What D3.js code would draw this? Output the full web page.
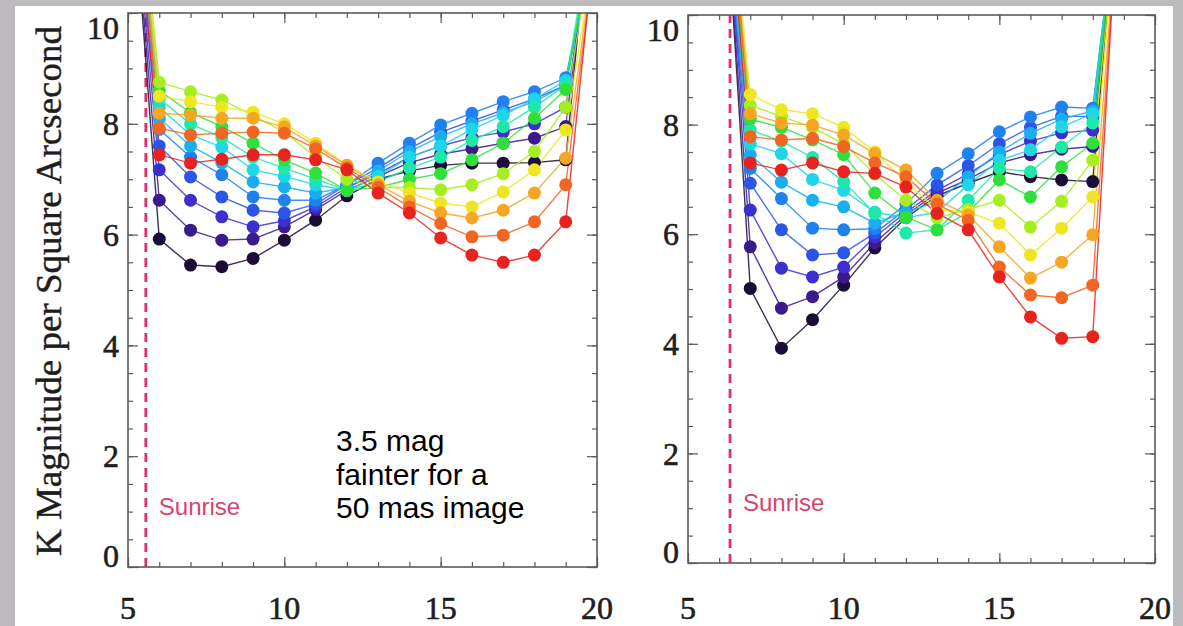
<!DOCTYPE html>
<html>
<head>
<meta charset="utf-8">
<script src="https://cdn.jsdelivr.net/npm/d3@7/dist/d3.min.js"></script>
<style>
  html, body { margin: 0; padding: 0; background: #bcbabc; }
  svg { display: block; }
</style>
</head>
<body>
<svg id="chart" width="1183" height="626"></svg>
<script>
// Hours (local time) at which the K-band sky brightness was sampled
const hoursA = [6, 7, 8, 9, 10, 11, 12, 13, 14, 15, 16, 17, 18, 19];
const hoursB = [7, 8, 9, 10, 11, 12, 13, 14, 15, 16, 17, 18];

// First/last samples, taken while the sky is still too bright (off scale)
const dawnHourA = 5.4, duskHourA = 19.75;
const dawnHourB = 6.4, duskHourB = 18.7;
const sunriseA = 5.57, sunriseB = 6.35;

const xTickLabels = [5, 10, 15, 20];
const yTickLabels = [0, 2, 4, 6, 8, 10];

// One colour per sky pointing
const pointingColors = [
  "#1c0d36", "#3a1a8c", "#3b2fd0", "#2b55e6", "#1f80ee", "#19aef0", "#1fd6e6",
  "#1ee8a8", "#2fe03a", "#a6ee1e", "#eee620", "#f5a623", "#f26522", "#e8231f"
];

// Left panel: magnitude per square arcsecond at each hour, one row per pointing
const skyA = [
  [5.92, 5.45, 5.42, 5.57, 5.90, 6.26, 6.70, 7.00, 7.15, 7.25, 7.29, 7.29, 7.30, 7.35],
  [6.62, 6.08, 5.90, 5.92, 6.14, 6.45, 6.80, 7.05, 7.30, 7.45, 7.55, 7.65, 7.74, 7.95],
  [7.17, 6.62, 6.32, 6.14, 6.25, 6.50, 6.85, 7.10, 7.40, 7.60, 7.75, 7.85, 8.00, 8.30],
  [7.60, 7.04, 6.68, 6.44, 6.39, 6.55, 6.90, 7.20, 7.55, 7.85, 8.05, 8.25, 8.45, 8.70],
  [7.90, 7.40, 7.08, 6.68, 6.62, 6.62, 6.90, 7.29, 7.65, 7.98, 8.19, 8.40, 8.58, 8.83],
  [8.10, 7.60, 7.30, 6.95, 6.86, 6.75, 6.85, 7.15, 7.50, 7.77, 8.00, 8.20, 8.40, 8.70],
  [8.30, 7.80, 7.58, 7.17, 7.05, 6.90, 6.80, 7.05, 7.40, 7.60, 7.90, 8.15, 8.45, 8.78],
  [8.45, 8.00, 7.75, 7.40, 7.20, 7.00, 6.80, 6.95, 7.20, 7.40, 7.70, 7.95, 8.30, 8.70],
  [8.60, 8.20, 7.95, 7.65, 7.35, 7.11, 6.80, 6.85, 7.00, 7.10, 7.35, 7.65, 8.10, 8.62],
  [8.75, 8.58, 8.43, 8.15, 7.85, 7.40, 7.00, 6.85, 6.85, 6.81, 6.90, 7.10, 7.50, 8.30],
  [8.50, 8.40, 8.30, 8.21, 8.00, 7.65, 7.25, 6.95, 6.75, 6.57, 6.50, 6.77, 7.17, 7.89],
  [8.19, 8.16, 8.10, 8.10, 7.94, 7.60, 7.25, 6.90, 6.60, 6.39, 6.30, 6.44, 6.75, 7.38],
  [7.92, 7.80, 7.83, 7.85, 7.83, 7.55, 7.20, 6.85, 6.50, 6.20, 5.96, 5.99, 6.23, 6.90],
  [7.44, 7.29, 7.36, 7.44, 7.44, 7.35, 7.17, 6.75, 6.39, 5.94, 5.63, 5.50, 5.63, 6.23]
];
const dawnA = [10.4, 10.6, 10.8, 11.0, 11.2, 11.4, 11.5, 11.7, 11.9, 12.2, 12.1, 11.8, 11.6, 11.3];
const duskA = [11.8, 11.4, 11.1, 10.9, 10.8, 10.9, 10.8, 11.3, 11.1, 10.9, 10.5, 10.4, 10.3, 10.3];

// Right panel
const skyB = [
  [5.01, 3.92, 4.44, 5.07, 5.75, 6.30, 6.70, 6.93, 7.14, 7.05, 6.99, 6.96],
  [5.77, 4.65, 4.86, 5.22, 5.84, 6.35, 6.75, 7.00, 7.30, 7.45, 7.55, 7.60],
  [6.44, 5.38, 5.22, 5.40, 5.95, 6.40, 6.80, 7.10, 7.45, 7.70, 7.85, 7.90],
  [6.93, 6.08, 5.62, 5.66, 6.02, 6.45, 6.90, 7.25, 7.65, 7.95, 8.15, 8.15],
  [7.20, 6.65, 6.11, 6.08, 6.10, 6.55, 7.11, 7.47, 7.87, 8.14, 8.32, 8.30],
  [7.45, 6.95, 6.62, 6.50, 6.20, 6.40, 6.60, 7.05, 7.50, 7.84, 8.10, 8.25],
  [7.65, 7.47, 7.00, 6.80, 6.40, 6.30, 6.40, 6.90, 7.35, 7.54, 7.96, 8.20],
  [7.90, 7.70, 7.40, 6.96, 6.38, 6.02, 6.08, 6.62, 7.20, 7.14, 7.59, 8.03],
  [8.10, 7.95, 7.72, 7.45, 6.75, 6.31, 6.08, 6.40, 6.99, 6.68, 7.23, 7.66],
  [8.35, 8.15, 7.95, 7.65, 7.10, 6.62, 6.30, 6.45, 6.62, 6.13, 6.60, 7.35],
  [8.55, 8.27, 8.20, 7.95, 7.50, 6.95, 6.45, 6.40, 6.20, 5.62, 6.11, 6.68],
  [8.20, 8.03, 7.99, 7.81, 7.47, 7.17, 6.62, 6.35, 5.77, 5.20, 5.49, 5.99],
  [7.78, 7.72, 7.75, 7.60, 7.30, 7.05, 6.55, 6.25, 5.40, 4.89, 4.84, 5.07],
  [7.30, 7.17, 7.30, 7.14, 7.11, 6.86, 6.38, 6.08, 5.22, 4.49, 4.10, 4.13]
];
const dawnB = [10.45, 10.56, 10.71, 10.77, 10.93, 11.0, 11.17, 11.22, 11.36, 11.65, 12.0, 11.85, 11.94, 11.57];
const duskB = [11.7, 11.6, 11.58, 11.4, 11.6, 11.65, 11.7, 11.66, 11.76, 11.47, 11.33, 11.1, 11.02, 10.98];

const svg = d3.select("#chart");

// page background: white card over a grey slide border
svg.append("rect").attr("x", 0).attr("y", 0).attr("width", 1183).attr("height", 626).attr("fill", "#bcbabc");
svg.append("rect").attr("x", 15).attr("y", 6).attr("width", 1158).attr("height", 620).attr("fill", "#ffffff");

const serif = "'Liberation Serif', 'Times New Roman', serif";
const frameColor = "#5a5a5a";
const inkColor = "#1e1e1e";

function drawPanel(id, box, hours, sky, dawnHour, dawnVals, duskHour, duskVals, sunrise) {
  const x = d3.scaleLinear().domain([5, 20]).range([box.left, box.right]);
  const y = d3.scaleLinear().domain([0, 10]).range([box.bottom, box.top]);
  const g = svg.append("g").attr("class", "panel-" + id);

  g.append("clipPath").attr("id", "clip-" + id)
    .append("rect")
    .attr("x", box.left).attr("y", box.top)
    .attr("width", box.right - box.left).attr("height", box.bottom - box.top);

  // inward-pointing ticks on all four sides
  const minorX = d3.range(5, 20.001, 1);
  const majorX = d3.range(5, 20.001, 5);
  const minorY = d3.range(0, 10.001, 0.5);
  const majorY = d3.range(0, 10.001, 2);
  const tickGroups = [
    [d3.axisBottom(x).tickValues(minorX).tickSize(-5), `translate(0,${box.bottom})`],
    [d3.axisBottom(x).tickValues(majorX).tickSize(-10), `translate(0,${box.bottom})`],
    [d3.axisTop(x).tickValues(minorX).tickSize(-5), `translate(0,${box.top})`],
    [d3.axisTop(x).tickValues(majorX).tickSize(-10), `translate(0,${box.top})`],
    [d3.axisLeft(y).tickValues(minorY).tickSize(-5), `translate(${box.left},0)`],
    [d3.axisLeft(y).tickValues(majorY).tickSize(-10), `translate(${box.left},0)`],
    [d3.axisRight(y).tickValues(minorY).tickSize(-5), `translate(${box.right},0)`],
    [d3.axisRight(y).tickValues(majorY).tickSize(-10), `translate(${box.right},0)`]
  ];
  tickGroups.forEach(([axis, tf]) => {
    const a = g.append("g").attr("transform", tf).call(axis.tickFormat(""));
    a.select(".domain").remove();
    a.selectAll("line").attr("stroke", frameColor).attr("stroke-width", 1.2);
  });

  // sunrise marker
  g.append("line")
    .attr("x1", x(sunrise)).attr("x2", x(sunrise))
    .attr("y1", y(0)).attr("y2", y(10))
    .attr("stroke", "#e0306a").attr("stroke-width", 2.8)
    .attr("stroke-dasharray", "9,6");
  g.append("text")
    .attr("x", x(sunrise) + 13).attr("y", y(0) - 52)
    .attr("font-family", "'Liberation Sans', Arial, sans-serif")
    .attr("font-size", 24).attr("fill", "#d8436c")
    .text("Sunrise");

  // sky-brightness curves
  const plot = g.append("g").attr("clip-path", `url(#clip-${id})`);
  const line = d3.line().x(d => x(d[0])).y(d => y(d[1]));
  sky.forEach((vals, i) => {
    const pts = [[dawnHour, dawnVals[i]]]
      .concat(hours.map((h, j) => [h, vals[j]]))
      .concat([[duskHour, duskVals[i]]]);
    plot.append("path")
      .attr("d", line(pts))
      .attr("fill", "none")
      .attr("stroke", pointingColors[i])
      .attr("stroke-width", 1.4)
      .attr("stroke-opacity", 0.85);
  });
  sky.forEach((vals, i) => {
    plot.selectAll(null)
      .data(hours.map((h, j) => [h, vals[j]]))
      .join("circle")
      .attr("cx", d => x(d[0]))
      .attr("cy", d => y(d[1]))
      .attr("r", 6.5)
      .attr("fill", pointingColors[i]);
  });

  // frame
  g.append("rect")
    .attr("x", box.left).attr("y", box.top)
    .attr("width", box.right - box.left).attr("height", box.bottom - box.top)
    .attr("fill", "none").attr("stroke", frameColor).attr("stroke-width", 1.6);

  // tick labels (kept inside the vertical extent of the frame)
  g.selectAll(null).data(yTickLabels).join("text")
    .attr("x", box.left - 9)
    .attr("y", d => Math.min(Math.max(y(d), box.top + 15), box.bottom - 11))
    .attr("dy", "0.35em")
    .attr("text-anchor", "end")
    .attr("font-family", serif).attr("font-size", 32)
    .attr("fill", inkColor).attr("stroke", inkColor).attr("stroke-width", 0.6)
    .text(d => d);
  g.selectAll(null).data(xTickLabels).join("text")
    .attr("x", d => x(d))
    .attr("y", 619)
    .attr("text-anchor", "middle")
    .attr("font-family", serif).attr("font-size", 32)
    .attr("fill", inkColor).attr("stroke", inkColor).attr("stroke-width", 0.6)
    .text(d => d);
}

drawPanel("a", { left: 128, right: 597, top: 13, bottom: 567 },
  hoursA, skyA, dawnHourA, dawnA, duskHourA, duskA, sunriseA);
drawPanel("b", { left: 688, right: 1155, top: 15, bottom: 563 },
  hoursB, skyB, dawnHourB, dawnB, duskHourB, duskB, sunriseB);

// shared y-axis title
svg.append("text")
  .attr("transform", "translate(61,291) rotate(-90)")
  .attr("text-anchor", "middle")
  .attr("font-family", serif).attr("font-size", 35)
  .attr("fill", inkColor).attr("stroke", inkColor).attr("stroke-width", 0.4)
  .attr("textLength", 530).attr("lengthAdjust", "spacingAndGlyphs")
  .text("K Magnitude per Square Arcsecond");

// annotation
const noteLines = ["3.5 mag", "fainter for a", "50 mas image"];
svg.selectAll(null).data(noteLines).join("text")
  .attr("x", 336)
  .attr("y", (d, i) => 451 + i * 33.6)
  .attr("font-family", "'Liberation Sans', Arial, sans-serif")
  .attr("font-size", 30).attr("fill", "#000")
  .text(d => d);
</script>
</body>
</html>
